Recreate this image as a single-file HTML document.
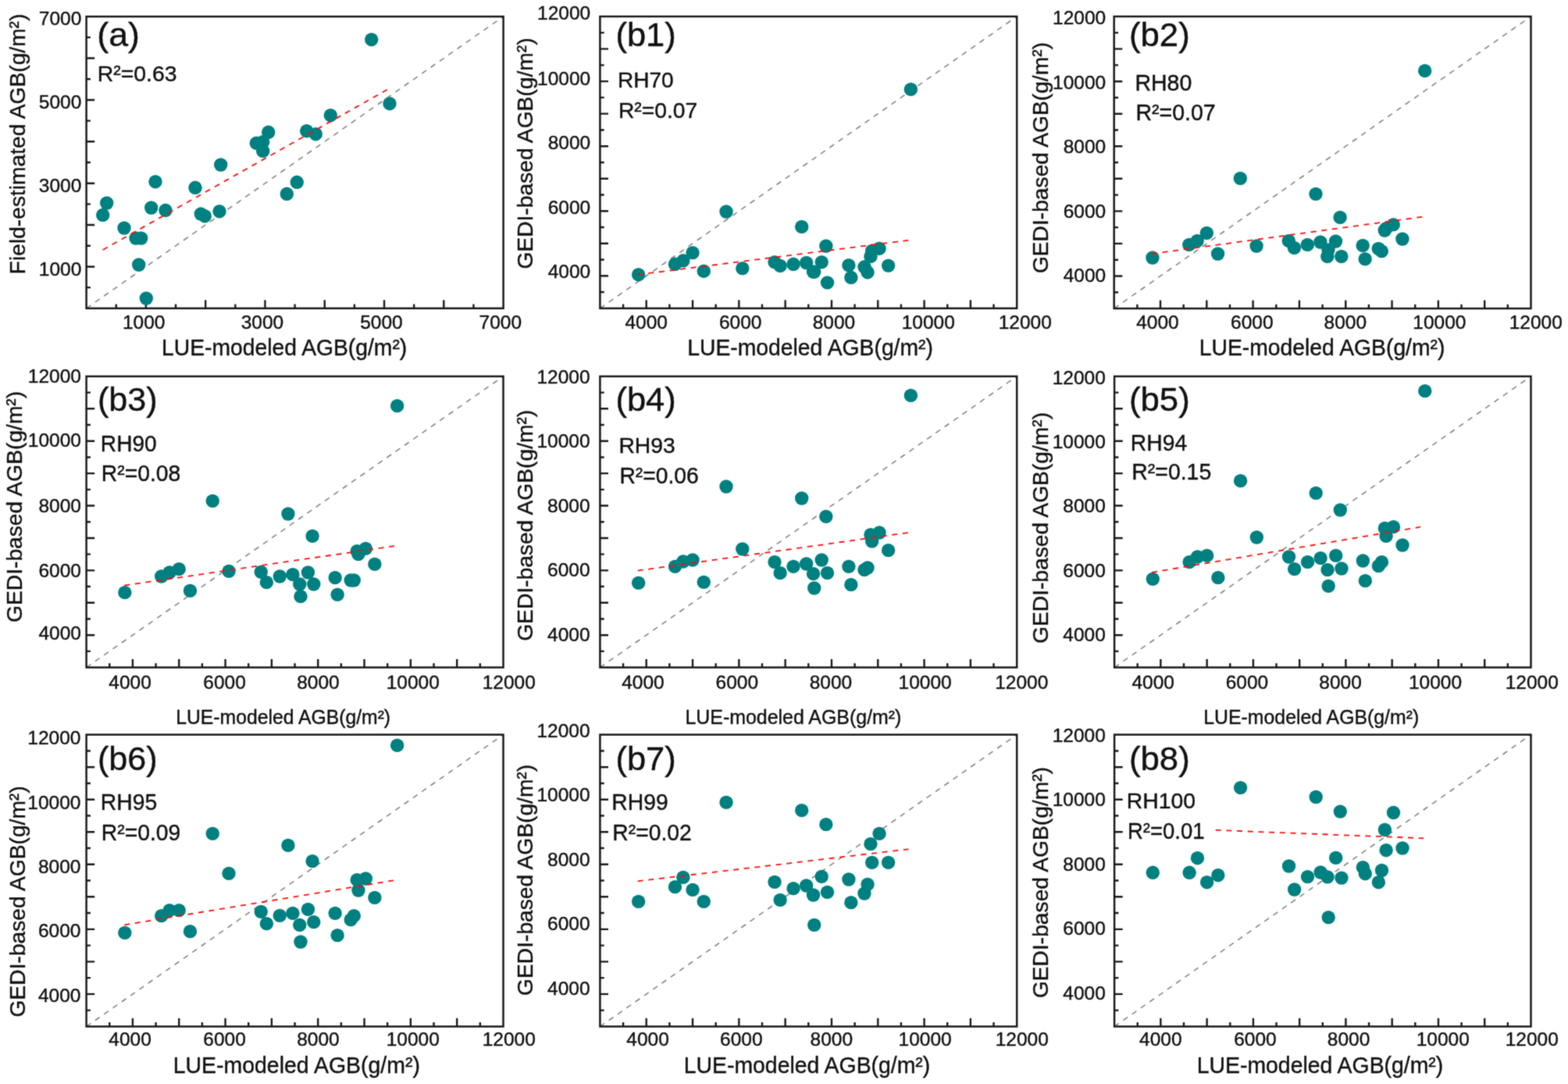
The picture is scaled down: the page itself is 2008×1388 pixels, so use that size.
<!DOCTYPE html>
<html><head><meta charset="utf-8"><title>AGB scatter plots</title>
<style>
html,body{margin:0;padding:0;background:#fff;}
svg{display:block;}
text{font-family:'Liberation Sans', Arial, sans-serif;fill:#111;stroke:#111;stroke-width:0.4px;}
circle{fill:#008080;}
</style></head>
<body>
<svg width="2008" height="1388" viewBox="0 0 2008 1388">
<defs><filter id="soft" color-interpolation-filters="sRGB" filterUnits="userSpaceOnUse" x="0" y="0" width="2008" height="1388"><feConvolveMatrix order="3" kernelMatrix="1 4 1 4 16 4 1 4 1" divisor="36" edgeMode="duplicate"/></filter></defs>
<g filter="url(#soft)">
<rect width="2008" height="1388" fill="#fff"/>
<g id="p_a"><clipPath id="clip_a"><rect x="110.6" y="21.2" width="534" height="373.6"/></clipPath>
<line x1="110.6" y1="394.8" x2="644.6" y2="21.2" stroke="#858585" stroke-width="1.6" stroke-dasharray="7 6.8" clip-path="url(#clip_a)"/>
<path d="M148.74 394.8v-5.3 M186.89 394.8v-10.6 M225.03 394.8v-5.3 M263.17 394.8v-10.6 M301.31 394.8v-5.3 M339.46 394.8v-10.6 M377.6 394.8v-5.3 M415.74 394.8v-10.6 M453.89 394.8v-5.3 M492.03 394.8v-10.6 M530.17 394.8v-5.3 M568.31 394.8v-10.6 M606.46 394.8v-5.3 M110.6 368.11h5.3 M110.6 341.43h10.6 M110.6 314.74h5.3 M110.6 288.06h10.6 M110.6 261.37h5.3 M110.6 234.69h10.6 M110.6 208h5.3 M110.6 181.31h10.6 M110.6 154.63h5.3 M110.6 127.94h10.6 M110.6 101.26h5.3 M110.6 74.57h10.6 M110.6 47.89h5.3" stroke="#1a1a1a" stroke-width="2.4" fill="none"/>
<rect x="110.6" y="21.2" width="534" height="373.6" fill="none" stroke="#1a1a1a" stroke-width="2.5"/>
<circle cx="475.7" cy="50.7" r="8.7"/>
<circle cx="499" cy="132.7" r="8.7"/>
<circle cx="423.3" cy="147.7" r="8.7"/>
<circle cx="343.7" cy="169.3" r="8.7"/>
<circle cx="392.7" cy="167.7" r="8.7"/>
<circle cx="404.3" cy="171.7" r="8.7"/>
<circle cx="328.3" cy="183.3" r="8.7"/>
<circle cx="336.7" cy="181.7" r="8.7"/>
<circle cx="336.7" cy="193.3" r="8.7"/>
<circle cx="282.7" cy="211" r="8.7"/>
<circle cx="199" cy="232.7" r="8.7"/>
<circle cx="250" cy="240.3" r="8.7"/>
<circle cx="380.3" cy="233.3" r="8.7"/>
<circle cx="367.3" cy="248.3" r="8.7"/>
<circle cx="136.7" cy="260" r="8.7"/>
<circle cx="131.7" cy="275.3" r="8.7"/>
<circle cx="193.7" cy="266" r="8.7"/>
<circle cx="212" cy="269.3" r="8.7"/>
<circle cx="257.3" cy="274" r="8.7"/>
<circle cx="262.3" cy="276.7" r="8.7"/>
<circle cx="281" cy="270.7" r="8.7"/>
<circle cx="159" cy="292" r="8.7"/>
<circle cx="174" cy="305" r="8.7"/>
<circle cx="180.7" cy="305" r="8.7"/>
<circle cx="177.7" cy="339" r="8.7"/>
<circle cx="187.3" cy="382" r="8.7"/>
<line x1="131.7" y1="320" x2="496.7" y2="114.3" stroke="#ff0d0d" stroke-width="1.8" stroke-dasharray="7 6.7"/>
<text x="184.2" y="420.7" text-anchor="middle" font-size="24.5">1000</text>
<text x="336" y="420.7" text-anchor="middle" font-size="24.5">3000</text>
<text x="488.4" y="420.7" text-anchor="middle" font-size="24.5">5000</text>
<text x="640.8" y="420.7" text-anchor="middle" font-size="24.5">7000</text>
<text x="104.3" y="32.45" text-anchor="end" font-size="24.5">7000</text>
<text x="104.3" y="245.6" text-anchor="end" font-size="24.5">3000</text>
<text x="104.3" y="139.2" text-anchor="end" font-size="24.5">5000</text>
<text x="104.3" y="353.2" text-anchor="end" font-size="24.5">1000</text>
<text x="207.04" y="455.3" font-size="29" transform="translate(207.04 0) scale(0.9754 1) translate(-207.04 0)">LUE-modeled AGB(g/m²)</text>
<text x="0" y="0" font-size="28.2" transform="translate(32.1 351.26) rotate(-90) scale(1.0001 1)">Field-estimated AGB(g/m²)</text>
<text x="124.32" y="59.12" font-size="41.81" transform="translate(124.32 0) scale(1.0698 1) translate(-124.32 0)">(a)</text>
<text x="124.73" y="103.88" font-size="28.45" transform="translate(124.73 0) scale(0.9986 1) translate(-124.73 0)">R²=0.63</text></g>
<g id="p_b1"><clipPath id="clip_b1"><rect x="768.4" y="21.1" width="533.8" height="373.7"/></clipPath>
<line x1="768.4" y1="394.8" x2="1302.2" y2="21.1" stroke="#858585" stroke-width="1.6" stroke-dasharray="7 6.8" clip-path="url(#clip_b1)"/>
<path d="M798.06 394.8v-5.3 M827.71 394.8v-10.6 M857.37 394.8v-5.3 M887.02 394.8v-10.6 M916.68 394.8v-5.3 M946.33 394.8v-10.6 M975.99 394.8v-5.3 M1005.64 394.8v-10.6 M1035.3 394.8v-5.3 M1064.96 394.8v-10.6 M1094.61 394.8v-5.3 M1124.27 394.8v-10.6 M1153.92 394.8v-5.3 M1183.58 394.8v-10.6 M1213.23 394.8v-5.3 M1242.89 394.8v-10.6 M1272.54 394.8v-5.3 M768.4 374.04h5.3 M768.4 353.28h10.6 M768.4 332.52h5.3 M768.4 311.76h10.6 M768.4 290.99h5.3 M768.4 270.23h10.6 M768.4 249.47h5.3 M768.4 228.71h10.6 M768.4 207.95h5.3 M768.4 187.19h10.6 M768.4 166.43h5.3 M768.4 145.67h10.6 M768.4 124.91h5.3 M768.4 104.14h10.6 M768.4 83.38h5.3 M768.4 62.62h10.6 M768.4 41.86h5.3" stroke="#1a1a1a" stroke-width="2.4" fill="none"/>
<rect x="768.4" y="21.1" width="533.8" height="373.7" fill="none" stroke="#1a1a1a" stroke-width="2.5"/>
<circle cx="817.63" cy="351.7" r="8.7"/>
<circle cx="864.48" cy="338.3" r="8.7"/>
<circle cx="874.86" cy="333.8" r="8.7"/>
<circle cx="887.02" cy="323.6" r="8.7"/>
<circle cx="901.26" cy="347.2" r="8.7"/>
<circle cx="930.02" cy="271" r="8.7"/>
<circle cx="950.78" cy="343.6" r="8.7"/>
<circle cx="992" cy="335.6" r="8.7"/>
<circle cx="999.12" cy="340.4" r="8.7"/>
<circle cx="1016.02" cy="338.3" r="8.7"/>
<circle cx="1026.7" cy="290.4" r="8.7"/>
<circle cx="1032.63" cy="336.5" r="8.7"/>
<circle cx="1041.53" cy="348.1" r="8.7"/>
<circle cx="1042.71" cy="348.1" r="8.7"/>
<circle cx="1052.2" cy="335.6" r="8.7"/>
<circle cx="1057.84" cy="315" r="8.7"/>
<circle cx="1059.5" cy="361.9" r="8.7"/>
<circle cx="1086.9" cy="339.7" r="8.7"/>
<circle cx="1089.87" cy="355.3" r="8.7"/>
<circle cx="1106.95" cy="341.8" r="8.7"/>
<circle cx="1111.04" cy="348.7" r="8.7"/>
<circle cx="1114.95" cy="328.4" r="8.7"/>
<circle cx="1116.67" cy="321.2" r="8.7"/>
<circle cx="1126.05" cy="318.2" r="8.7"/>
<circle cx="1137.61" cy="340.1" r="8.7"/>
<circle cx="1166.38" cy="114.4" r="8.7"/>
<line x1="816.7" y1="351.7" x2="1163.3" y2="307.7" stroke="#ff0d0d" stroke-width="1.8" stroke-dasharray="7 6.7"/>
<text x="827.7" y="420.7" text-anchor="middle" font-size="24.5">4000</text>
<text x="948.2" y="420.7" text-anchor="middle" font-size="24.5">6000</text>
<text x="1068" y="420.7" text-anchor="middle" font-size="24.5">8000</text>
<text x="1188.8" y="420.7" text-anchor="middle" font-size="24.5">10000</text>
<text x="1312.8" y="420.7" text-anchor="middle" font-size="24.5">12000</text>
<text x="756.2" y="25.4" text-anchor="end" font-size="24.5">12000</text>
<text x="756.2" y="108.6" text-anchor="end" font-size="24.5">10000</text>
<text x="756.2" y="191.1" text-anchor="end" font-size="24.5">8000</text>
<text x="756.2" y="273.6" text-anchor="end" font-size="24.5">6000</text>
<text x="756.2" y="356.1" text-anchor="end" font-size="24.5">4000</text>
<text x="880.23" y="455.3" font-size="29" transform="translate(880.23 0) scale(0.9766 1) translate(-880.23 0)">LUE-modeled AGB(g/m²)</text>
<text x="0" y="0" font-size="28.2" transform="translate(681.5 344.51) rotate(-90) scale(1.0000 1)">GEDI-based AGB(g/m²)</text>
<text x="788.49" y="58.62" font-size="41.81" transform="translate(788.49 0) scale(1.0389 1) translate(-788.49 0)">(b1)</text>
<text x="790.95" y="111.58" font-size="27.75" transform="translate(790.95 0) scale(1.0118 1) translate(-790.95 0)">RH70</text>
<text x="791.94" y="150.88" font-size="28.45" transform="translate(791.94 0) scale(0.9935 1) translate(-791.94 0)">R²=0.07</text></g>
<g id="p_b2"><clipPath id="clip_b2"><rect x="1426.7" y="21.1" width="533.8" height="373.9"/></clipPath>
<line x1="1426.7" y1="395" x2="1960.5" y2="21.1" stroke="#858585" stroke-width="1.6" stroke-dasharray="7 6.8" clip-path="url(#clip_b2)"/>
<path d="M1456.36 395v-5.3 M1486.01 395v-10.6 M1515.67 395v-5.3 M1545.32 395v-10.6 M1574.98 395v-5.3 M1604.63 395v-10.6 M1634.29 395v-5.3 M1663.94 395v-10.6 M1693.6 395v-5.3 M1723.26 395v-10.6 M1752.91 395v-5.3 M1782.57 395v-10.6 M1812.22 395v-5.3 M1841.88 395v-10.6 M1871.53 395v-5.3 M1901.19 395v-10.6 M1930.84 395v-5.3 M1426.7 374.23h5.3 M1426.7 353.46h10.6 M1426.7 332.68h5.3 M1426.7 311.91h10.6 M1426.7 291.14h5.3 M1426.7 270.37h10.6 M1426.7 249.59h5.3 M1426.7 228.82h10.6 M1426.7 208.05h5.3 M1426.7 187.28h10.6 M1426.7 166.51h5.3 M1426.7 145.73h10.6 M1426.7 124.96h5.3 M1426.7 104.19h10.6 M1426.7 83.42h5.3 M1426.7 62.64h10.6 M1426.7 41.87h5.3" stroke="#1a1a1a" stroke-width="2.4" fill="none"/>
<rect x="1426.7" y="21.1" width="533.8" height="373.9" fill="none" stroke="#1a1a1a" stroke-width="2.5"/>
<circle cx="1475.93" cy="330" r="8.7"/>
<circle cx="1522.78" cy="313.33" r="8.7"/>
<circle cx="1533.16" cy="308.33" r="8.7"/>
<circle cx="1545.32" cy="298.33" r="8.7"/>
<circle cx="1559.56" cy="325" r="8.7"/>
<circle cx="1588.32" cy="228.33" r="8.7"/>
<circle cx="1609.08" cy="315" r="8.7"/>
<circle cx="1650.3" cy="308.33" r="8.7"/>
<circle cx="1657.42" cy="317.33" r="8.7"/>
<circle cx="1674.32" cy="313.33" r="8.7"/>
<circle cx="1685" cy="248.33" r="8.7"/>
<circle cx="1690.93" cy="310" r="8.7"/>
<circle cx="1699.83" cy="328.33" r="8.7"/>
<circle cx="1701.01" cy="320" r="8.7"/>
<circle cx="1710.5" cy="309" r="8.7"/>
<circle cx="1716.14" cy="278.33" r="8.7"/>
<circle cx="1717.8" cy="328.33" r="8.7"/>
<circle cx="1745.2" cy="314.33" r="8.7"/>
<circle cx="1748.17" cy="331.67" r="8.7"/>
<circle cx="1765.25" cy="318.33" r="8.7"/>
<circle cx="1769.34" cy="321.67" r="8.7"/>
<circle cx="1773.25" cy="295" r="8.7"/>
<circle cx="1774.97" cy="292.67" r="8.7"/>
<circle cx="1784.35" cy="287.67" r="8.7"/>
<circle cx="1795.91" cy="306" r="8.7"/>
<circle cx="1824.68" cy="90.67" r="8.7"/>
<line x1="1475" y1="325" x2="1821.3" y2="277.7" stroke="#ff0d0d" stroke-width="1.8" stroke-dasharray="7 6.7"/>
<text x="1482.4" y="420.7" text-anchor="middle" font-size="24.5">4000</text>
<text x="1603.3" y="420.7" text-anchor="middle" font-size="24.5">6000</text>
<text x="1722.8" y="420.7" text-anchor="middle" font-size="24.5">8000</text>
<text x="1843.4" y="420.7" text-anchor="middle" font-size="24.5">10000</text>
<text x="1966.7" y="420.7" text-anchor="middle" font-size="24.5">12000</text>
<text x="1416.2" y="31" text-anchor="end" font-size="24.5">12000</text>
<text x="1416.2" y="114.3" text-anchor="end" font-size="24.5">10000</text>
<text x="1416.2" y="196.4" text-anchor="end" font-size="24.5">8000</text>
<text x="1416.2" y="278.9" text-anchor="end" font-size="24.5">6000</text>
<text x="1416.2" y="360.8" text-anchor="end" font-size="24.5">4000</text>
<text x="1535.73" y="455.3" font-size="29" transform="translate(1535.73 0) scale(0.9766 1) translate(-1535.73 0)">LUE-modeled AGB(g/m²)</text>
<text x="0" y="0" font-size="28.2" transform="translate(1342.3 350.11) rotate(-90) scale(1.0000 1)">GEDI-based AGB(g/m²)</text>
<text x="1445.98" y="58.62" font-size="41.81" transform="translate(1445.98 0) scale(1.0461 1) translate(-1445.98 0)">(b2)</text>
<text x="1453.42" y="115.59" font-size="29.15" transform="translate(1453.42 0) scale(0.9784 1) translate(-1453.42 0)">RH80</text>
<text x="1454.42" y="153.89" font-size="29.01" transform="translate(1454.42 0) scale(0.9842 1) translate(-1454.42 0)">R²=0.07</text></g>
<g id="p_b3"><clipPath id="clip_b3"><rect x="110.6" y="481.9" width="533.9" height="372.7"/></clipPath>
<line x1="110.6" y1="854.6" x2="644.5" y2="481.9" stroke="#858585" stroke-width="1.6" stroke-dasharray="7 6.8" clip-path="url(#clip_b3)"/>
<path d="M140.26 854.6v-5.3 M169.92 854.6v-10.6 M199.58 854.6v-5.3 M229.24 854.6v-10.6 M258.91 854.6v-5.3 M288.57 854.6v-10.6 M318.23 854.6v-5.3 M347.89 854.6v-10.6 M377.55 854.6v-5.3 M407.21 854.6v-10.6 M436.87 854.6v-5.3 M466.53 854.6v-10.6 M496.19 854.6v-5.3 M525.86 854.6v-10.6 M555.52 854.6v-5.3 M585.18 854.6v-10.6 M614.84 854.6v-5.3 M110.6 833.89h5.3 M110.6 813.19h10.6 M110.6 792.48h5.3 M110.6 771.78h10.6 M110.6 751.07h5.3 M110.6 730.37h10.6 M110.6 709.66h5.3 M110.6 688.96h10.6 M110.6 668.25h5.3 M110.6 647.54h10.6 M110.6 626.84h5.3 M110.6 606.13h10.6 M110.6 585.43h5.3 M110.6 564.72h10.6 M110.6 544.02h5.3 M110.6 523.31h10.6 M110.6 502.61h5.3" stroke="#1a1a1a" stroke-width="2.4" fill="none"/>
<rect x="110.6" y="481.9" width="533.9" height="372.7" fill="none" stroke="#1a1a1a" stroke-width="2.5"/>
<circle cx="159.84" cy="758.67" r="8.7"/>
<circle cx="206.7" cy="738" r="8.7"/>
<circle cx="217.08" cy="733" r="8.7"/>
<circle cx="229.24" cy="728.67" r="8.7"/>
<circle cx="243.48" cy="756.33" r="8.7"/>
<circle cx="272.25" cy="641.33" r="8.7"/>
<circle cx="293.02" cy="731.33" r="8.7"/>
<circle cx="334.24" cy="732.33" r="8.7"/>
<circle cx="341.36" cy="745.67" r="8.7"/>
<circle cx="358.27" cy="738" r="8.7"/>
<circle cx="368.95" cy="658" r="8.7"/>
<circle cx="374.88" cy="735.67" r="8.7"/>
<circle cx="383.78" cy="748" r="8.7"/>
<circle cx="384.97" cy="763.67" r="8.7"/>
<circle cx="394.46" cy="733" r="8.7"/>
<circle cx="400.09" cy="686.33" r="8.7"/>
<circle cx="401.75" cy="748" r="8.7"/>
<circle cx="429.16" cy="739.67" r="8.7"/>
<circle cx="432.13" cy="761.33" r="8.7"/>
<circle cx="449.21" cy="743" r="8.7"/>
<circle cx="453.3" cy="743" r="8.7"/>
<circle cx="457.22" cy="705.67" r="8.7"/>
<circle cx="458.94" cy="709.67" r="8.7"/>
<circle cx="468.31" cy="702.33" r="8.7"/>
<circle cx="479.88" cy="722.33" r="8.7"/>
<circle cx="508.65" cy="519.67" r="8.7"/>
<line x1="159.3" y1="749.7" x2="505.7" y2="699" stroke="#ff0d0d" stroke-width="1.8" stroke-dasharray="7 6.7"/>
<text x="166.6" y="881.8" text-anchor="middle" font-size="24.5">4000</text>
<text x="287.6" y="881.8" text-anchor="middle" font-size="24.5">6000</text>
<text x="407.4" y="881.8" text-anchor="middle" font-size="24.5">8000</text>
<text x="528.8" y="881.8" text-anchor="middle" font-size="24.5">10000</text>
<text x="651.7" y="881.8" text-anchor="middle" font-size="24.5">12000</text>
<text x="104" y="489.5" text-anchor="end" font-size="24.5">12000</text>
<text x="104" y="571.5" text-anchor="end" font-size="24.5">10000</text>
<text x="104" y="655.8" text-anchor="end" font-size="24.5">8000</text>
<text x="104" y="738.5" text-anchor="end" font-size="24.5">6000</text>
<text x="104" y="818.7" text-anchor="end" font-size="24.5">4000</text>
<text x="225.22" y="927.4" font-size="25.5" transform="translate(225.22 0) scale(0.9706 1) translate(-225.22 0)">LUE-modeled AGB(g/m²)</text>
<text x="0" y="0" font-size="28.2" transform="translate(27.7 796.91) rotate(-90) scale(1.0000 1)">GEDI-based AGB(g/m²)</text>
<text x="125.01" y="525.51" font-size="42.34" transform="translate(125.01 0) scale(1.0187 1) translate(-125.01 0)">(b3)</text>
<text x="128.85" y="577.59" font-size="29.15" transform="translate(128.85 0) scale(0.9643 1) translate(-128.85 0)">RH90</text>
<text x="129.84" y="615.89" font-size="29.15" transform="translate(129.84 0) scale(0.9705 1) translate(-129.84 0)">R²=0.08</text></g>
<g id="p_b4"><clipPath id="clip_b4"><rect x="768.4" y="481.9" width="533.8" height="372.7"/></clipPath>
<line x1="768.4" y1="854.6" x2="1302.2" y2="481.9" stroke="#858585" stroke-width="1.6" stroke-dasharray="7 6.8" clip-path="url(#clip_b4)"/>
<path d="M798.06 854.6v-5.3 M827.71 854.6v-10.6 M857.37 854.6v-5.3 M887.02 854.6v-10.6 M916.68 854.6v-5.3 M946.33 854.6v-10.6 M975.99 854.6v-5.3 M1005.64 854.6v-10.6 M1035.3 854.6v-5.3 M1064.96 854.6v-10.6 M1094.61 854.6v-5.3 M1124.27 854.6v-10.6 M1153.92 854.6v-5.3 M1183.58 854.6v-10.6 M1213.23 854.6v-5.3 M1242.89 854.6v-10.6 M1272.54 854.6v-5.3 M768.4 833.89h5.3 M768.4 813.19h10.6 M768.4 792.48h5.3 M768.4 771.78h10.6 M768.4 751.07h5.3 M768.4 730.37h10.6 M768.4 709.66h5.3 M768.4 688.96h10.6 M768.4 668.25h5.3 M768.4 647.54h10.6 M768.4 626.84h5.3 M768.4 606.13h10.6 M768.4 585.43h5.3 M768.4 564.72h10.6 M768.4 544.02h5.3 M768.4 523.31h10.6 M768.4 502.61h5.3" stroke="#1a1a1a" stroke-width="2.4" fill="none"/>
<rect x="768.4" y="481.9" width="533.8" height="372.7" fill="none" stroke="#1a1a1a" stroke-width="2.5"/>
<circle cx="817.63" cy="746.33" r="8.7"/>
<circle cx="864.48" cy="725.33" r="8.7"/>
<circle cx="874.86" cy="719" r="8.7"/>
<circle cx="887.02" cy="717" r="8.7"/>
<circle cx="901.26" cy="745.33" r="8.7"/>
<circle cx="930.02" cy="623" r="8.7"/>
<circle cx="950.78" cy="703" r="8.7"/>
<circle cx="992" cy="719.67" r="8.7"/>
<circle cx="999.12" cy="733.67" r="8.7"/>
<circle cx="1016.02" cy="725.33" r="8.7"/>
<circle cx="1026.7" cy="638" r="8.7"/>
<circle cx="1032.63" cy="722" r="8.7"/>
<circle cx="1041.53" cy="734.67" r="8.7"/>
<circle cx="1042.71" cy="753" r="8.7"/>
<circle cx="1052.2" cy="717" r="8.7"/>
<circle cx="1057.84" cy="661.33" r="8.7"/>
<circle cx="1059.5" cy="733.67" r="8.7"/>
<circle cx="1086.9" cy="725.33" r="8.7"/>
<circle cx="1089.87" cy="748.67" r="8.7"/>
<circle cx="1106.95" cy="729.67" r="8.7"/>
<circle cx="1111.04" cy="727" r="8.7"/>
<circle cx="1114.95" cy="684.67" r="8.7"/>
<circle cx="1116.67" cy="693" r="8.7"/>
<circle cx="1126.05" cy="682" r="8.7"/>
<circle cx="1137.61" cy="704.67" r="8.7"/>
<circle cx="1166.38" cy="506.33" r="8.7"/>
<line x1="816.7" y1="730.7" x2="1163.3" y2="682" stroke="#ff0d0d" stroke-width="1.8" stroke-dasharray="7 6.7"/>
<text x="823.5" y="881.8" text-anchor="middle" font-size="24.5">4000</text>
<text x="943.8" y="881.8" text-anchor="middle" font-size="24.5">6000</text>
<text x="1064" y="881.8" text-anchor="middle" font-size="24.5">8000</text>
<text x="1184.6" y="881.8" text-anchor="middle" font-size="24.5">10000</text>
<text x="1308.3" y="881.8" text-anchor="middle" font-size="24.5">12000</text>
<text x="755.6" y="490.8" text-anchor="end" font-size="24.5">12000</text>
<text x="755.6" y="573.1" text-anchor="end" font-size="24.5">10000</text>
<text x="755.6" y="655.5" text-anchor="end" font-size="24.5">8000</text>
<text x="755.6" y="737.5" text-anchor="end" font-size="24.5">6000</text>
<text x="755.6" y="820.6" text-anchor="end" font-size="24.5">4000</text>
<text x="877.51" y="926.8" font-size="25.5" transform="translate(877.51 0) scale(0.9774 1) translate(-877.51 0)">LUE-modeled AGB(g/m²)</text>
<text x="0" y="0" font-size="28.2" transform="translate(681.5 820.81) rotate(-90) scale(1.0000 1)">GEDI-based AGB(g/m²)</text>
<text x="788.49" y="525.51" font-size="42.34" transform="translate(788.49 0) scale(1.0258 1) translate(-788.49 0)">(b4)</text>
<text x="792.43" y="579.58" font-size="28.45" transform="translate(792.43 0) scale(0.9954 1) translate(-792.43 0)">RH93</text>
<text x="793.44" y="618.69" font-size="28.73" transform="translate(793.44 0) scale(0.9838 1) translate(-793.44 0)">R²=0.06</text></g>
<g id="p_b5"><clipPath id="clip_b5"><rect x="1427.1" y="481.9" width="533.4" height="372.7"/></clipPath>
<line x1="1427.1" y1="854.6" x2="1960.5" y2="481.9" stroke="#858585" stroke-width="1.6" stroke-dasharray="7 6.8" clip-path="url(#clip_b5)"/>
<path d="M1456.73 854.6v-5.3 M1486.37 854.6v-10.6 M1516 854.6v-5.3 M1545.63 854.6v-10.6 M1575.27 854.6v-5.3 M1604.9 854.6v-10.6 M1634.53 854.6v-5.3 M1664.17 854.6v-10.6 M1693.8 854.6v-5.3 M1723.43 854.6v-10.6 M1753.07 854.6v-5.3 M1782.7 854.6v-10.6 M1812.33 854.6v-5.3 M1841.97 854.6v-10.6 M1871.6 854.6v-5.3 M1901.23 854.6v-10.6 M1930.87 854.6v-5.3 M1427.1 833.89h5.3 M1427.1 813.19h10.6 M1427.1 792.48h5.3 M1427.1 771.78h10.6 M1427.1 751.07h5.3 M1427.1 730.37h10.6 M1427.1 709.66h5.3 M1427.1 688.96h10.6 M1427.1 668.25h5.3 M1427.1 647.54h10.6 M1427.1 626.84h5.3 M1427.1 606.13h10.6 M1427.1 585.43h5.3 M1427.1 564.72h10.6 M1427.1 544.02h5.3 M1427.1 523.31h10.6 M1427.1 502.61h5.3" stroke="#1a1a1a" stroke-width="2.4" fill="none"/>
<rect x="1427.1" y="481.9" width="533.4" height="372.7" fill="none" stroke="#1a1a1a" stroke-width="2.5"/>
<circle cx="1476.29" cy="741.33" r="8.7"/>
<circle cx="1523.11" cy="719.67" r="8.7"/>
<circle cx="1533.48" cy="713" r="8.7"/>
<circle cx="1545.63" cy="711.33" r="8.7"/>
<circle cx="1559.86" cy="739.67" r="8.7"/>
<circle cx="1588.6" cy="615.67" r="8.7"/>
<circle cx="1609.35" cy="688" r="8.7"/>
<circle cx="1650.54" cy="713" r="8.7"/>
<circle cx="1657.65" cy="728.67" r="8.7"/>
<circle cx="1674.54" cy="719.67" r="8.7"/>
<circle cx="1685.21" cy="631.33" r="8.7"/>
<circle cx="1691.13" cy="714.67" r="8.7"/>
<circle cx="1700.02" cy="729.67" r="8.7"/>
<circle cx="1701.21" cy="750.33" r="8.7"/>
<circle cx="1710.69" cy="711.33" r="8.7"/>
<circle cx="1716.32" cy="653" r="8.7"/>
<circle cx="1717.98" cy="728" r="8.7"/>
<circle cx="1745.36" cy="718" r="8.7"/>
<circle cx="1748.33" cy="743.67" r="8.7"/>
<circle cx="1765.39" cy="724.67" r="8.7"/>
<circle cx="1769.48" cy="719.67" r="8.7"/>
<circle cx="1773.4" cy="676.33" r="8.7"/>
<circle cx="1775.11" cy="686.33" r="8.7"/>
<circle cx="1784.48" cy="674.67" r="8.7"/>
<circle cx="1796.03" cy="698" r="8.7"/>
<circle cx="1824.78" cy="500.67" r="8.7"/>
<line x1="1475" y1="733" x2="1819" y2="674.7" stroke="#ff0d0d" stroke-width="1.8" stroke-dasharray="7 6.7"/>
<text x="1476.7" y="881.8" text-anchor="middle" font-size="24.5">4000</text>
<text x="1597" y="881.8" text-anchor="middle" font-size="24.5">6000</text>
<text x="1716.6" y="881.8" text-anchor="middle" font-size="24.5">8000</text>
<text x="1838" y="881.8" text-anchor="middle" font-size="24.5">10000</text>
<text x="1961.8" y="881.8" text-anchor="middle" font-size="24.5">12000</text>
<text x="1415.8" y="491.6" text-anchor="end" font-size="24.5">12000</text>
<text x="1415.8" y="574.1" text-anchor="end" font-size="24.5">10000</text>
<text x="1415.8" y="656.2" text-anchor="end" font-size="24.5">8000</text>
<text x="1415.8" y="738.5" text-anchor="end" font-size="24.5">6000</text>
<text x="1415.8" y="821.1" text-anchor="end" font-size="24.5">4000</text>
<text x="1541.31" y="926.8" font-size="25.5" transform="translate(1541.31 0) scale(0.9741 1) translate(-1541.31 0)">LUE-modeled AGB(g/m²)</text>
<text x="0" y="0" font-size="28.2" transform="translate(1342.3 824.01) rotate(-90) scale(1.0000 1)">GEDI-based AGB(g/m²)</text>
<text x="1445.98" y="525.51" font-size="42.34" transform="translate(1445.98 0) scale(1.0329 1) translate(-1445.98 0)">(b5)</text>
<text x="1447.83" y="576.59" font-size="29.15" transform="translate(1447.83 0) scale(0.9714 1) translate(-1447.83 0)">RH94</text>
<text x="1449.32" y="614.39" font-size="29.15" transform="translate(1449.32 0) scale(0.9755 1) translate(-1449.32 0)">R²=0.15</text></g>
<g id="p_b6"><clipPath id="clip_b6"><rect x="110.6" y="940.7" width="533.9" height="373.7"/></clipPath>
<line x1="110.6" y1="1314.4" x2="644.5" y2="940.7" stroke="#858585" stroke-width="1.6" stroke-dasharray="7 6.8" clip-path="url(#clip_b6)"/>
<path d="M140.26 1314.4v-5.3 M169.92 1314.4v-10.6 M199.58 1314.4v-5.3 M229.24 1314.4v-10.6 M258.91 1314.4v-5.3 M288.57 1314.4v-10.6 M318.23 1314.4v-5.3 M347.89 1314.4v-10.6 M377.55 1314.4v-5.3 M407.21 1314.4v-10.6 M436.87 1314.4v-5.3 M466.53 1314.4v-10.6 M496.19 1314.4v-5.3 M525.86 1314.4v-10.6 M555.52 1314.4v-5.3 M585.18 1314.4v-10.6 M614.84 1314.4v-5.3 M110.6 1293.64h5.3 M110.6 1272.88h10.6 M110.6 1252.12h5.3 M110.6 1231.36h10.6 M110.6 1210.59h5.3 M110.6 1189.83h10.6 M110.6 1169.07h5.3 M110.6 1148.31h10.6 M110.6 1127.55h5.3 M110.6 1106.79h10.6 M110.6 1086.03h5.3 M110.6 1065.27h10.6 M110.6 1044.51h5.3 M110.6 1023.74h10.6 M110.6 1002.98h5.3 M110.6 982.22h10.6 M110.6 961.46h5.3" stroke="#1a1a1a" stroke-width="2.4" fill="none"/>
<rect x="110.6" y="940.7" width="533.9" height="373.7" fill="none" stroke="#1a1a1a" stroke-width="2.5"/>
<circle cx="159.84" cy="1194.33" r="8.7"/>
<circle cx="206.7" cy="1172.67" r="8.7"/>
<circle cx="217.08" cy="1165.67" r="8.7"/>
<circle cx="229.24" cy="1165.67" r="8.7"/>
<circle cx="243.48" cy="1192.67" r="8.7"/>
<circle cx="272.25" cy="1067.33" r="8.7"/>
<circle cx="293.02" cy="1118.33" r="8.7"/>
<circle cx="334.24" cy="1167.33" r="8.7"/>
<circle cx="341.36" cy="1182.67" r="8.7"/>
<circle cx="358.27" cy="1172.33" r="8.7"/>
<circle cx="368.95" cy="1082.33" r="8.7"/>
<circle cx="374.88" cy="1169.33" r="8.7"/>
<circle cx="383.78" cy="1184.33" r="8.7"/>
<circle cx="384.97" cy="1206" r="8.7"/>
<circle cx="394.46" cy="1164.33" r="8.7"/>
<circle cx="400.09" cy="1102.67" r="8.7"/>
<circle cx="401.75" cy="1180.67" r="8.7"/>
<circle cx="429.16" cy="1169.33" r="8.7"/>
<circle cx="432.13" cy="1197.67" r="8.7"/>
<circle cx="449.21" cy="1177.67" r="8.7"/>
<circle cx="453.3" cy="1172.67" r="8.7"/>
<circle cx="457.22" cy="1126.67" r="8.7"/>
<circle cx="458.94" cy="1140" r="8.7"/>
<circle cx="468.31" cy="1125" r="8.7"/>
<circle cx="479.88" cy="1149.33" r="8.7"/>
<circle cx="508.65" cy="954.33" r="8.7"/>
<line x1="159.3" y1="1184.3" x2="504" y2="1127.3" stroke="#ff0d0d" stroke-width="1.8" stroke-dasharray="7 6.7"/>
<text x="166.6" y="1338.8" text-anchor="middle" font-size="24.5">4000</text>
<text x="287.6" y="1338.8" text-anchor="middle" font-size="24.5">6000</text>
<text x="407.4" y="1338.8" text-anchor="middle" font-size="24.5">8000</text>
<text x="528.8" y="1338.8" text-anchor="middle" font-size="24.5">10000</text>
<text x="651.7" y="1338.8" text-anchor="middle" font-size="24.5">12000</text>
<text x="103.5" y="953" text-anchor="end" font-size="24.5">12000</text>
<text x="103.5" y="1035.8" text-anchor="end" font-size="24.5">10000</text>
<text x="103.5" y="1118.4" text-anchor="end" font-size="24.5">8000</text>
<text x="103.5" y="1200.3" text-anchor="end" font-size="24.5">6000</text>
<text x="103.5" y="1283.4" text-anchor="end" font-size="24.5">4000</text>
<text x="221.72" y="1374.4" font-size="29" transform="translate(221.72 0) scale(0.9814 1) translate(-221.72 0)">LUE-modeled AGB(g/m²)</text>
<text x="0" y="0" font-size="28.2" transform="translate(32.1 1302.41) rotate(-90) scale(1.0000 1)">GEDI-based AGB(g/m²)</text>
<text x="125.01" y="985.51" font-size="42.34" transform="translate(125.01 0) scale(1.0187 1) translate(-125.01 0)">(b6)</text>
<text x="128.83" y="1037.09" font-size="29.15" transform="translate(128.83 0) scale(0.9714 1) translate(-128.83 0)">RH95</text>
<text x="129.84" y="1075.59" font-size="29.44" transform="translate(129.84 0) scale(0.9612 1) translate(-129.84 0)">R²=0.09</text></g>
<g id="p_b7"><clipPath id="clip_b7"><rect x="768.4" y="940.7" width="533.8" height="373.7"/></clipPath>
<line x1="768.4" y1="1314.4" x2="1302.2" y2="940.7" stroke="#858585" stroke-width="1.6" stroke-dasharray="7 6.8" clip-path="url(#clip_b7)"/>
<path d="M798.06 1314.4v-5.3 M827.71 1314.4v-10.6 M857.37 1314.4v-5.3 M887.02 1314.4v-10.6 M916.68 1314.4v-5.3 M946.33 1314.4v-10.6 M975.99 1314.4v-5.3 M1005.64 1314.4v-10.6 M1035.3 1314.4v-5.3 M1064.96 1314.4v-10.6 M1094.61 1314.4v-5.3 M1124.27 1314.4v-10.6 M1153.92 1314.4v-5.3 M1183.58 1314.4v-10.6 M1213.23 1314.4v-5.3 M1242.89 1314.4v-10.6 M1272.54 1314.4v-5.3 M768.4 1293.64h5.3 M768.4 1272.88h10.6 M768.4 1252.12h5.3 M768.4 1231.36h10.6 M768.4 1210.59h5.3 M768.4 1189.83h10.6 M768.4 1169.07h5.3 M768.4 1148.31h10.6 M768.4 1127.55h5.3 M768.4 1106.79h10.6 M768.4 1086.03h5.3 M768.4 1065.27h10.6 M768.4 1044.51h5.3 M768.4 1023.74h10.6 M768.4 1002.98h5.3 M768.4 982.22h10.6 M768.4 961.46h5.3" stroke="#1a1a1a" stroke-width="2.4" fill="none"/>
<rect x="768.4" y="940.7" width="533.8" height="373.7" fill="none" stroke="#1a1a1a" stroke-width="2.5"/>
<circle cx="817.63" cy="1154.33" r="8.7"/>
<circle cx="864.48" cy="1135.67" r="8.7"/>
<circle cx="874.86" cy="1123.33" r="8.7"/>
<circle cx="887.02" cy="1139.33" r="8.7"/>
<circle cx="901.26" cy="1154.33" r="8.7"/>
<circle cx="930.02" cy="1027.33" r="8.7"/>
<circle cx="992" cy="1129.33" r="8.7"/>
<circle cx="999.12" cy="1152.33" r="8.7"/>
<circle cx="1016.02" cy="1137.67" r="8.7"/>
<circle cx="1026.7" cy="1037.67" r="8.7"/>
<circle cx="1032.63" cy="1134" r="8.7"/>
<circle cx="1041.53" cy="1146" r="8.7"/>
<circle cx="1042.71" cy="1184.33" r="8.7"/>
<circle cx="1052.2" cy="1122.33" r="8.7"/>
<circle cx="1057.84" cy="1055.67" r="8.7"/>
<circle cx="1059.5" cy="1142.33" r="8.7"/>
<circle cx="1086.9" cy="1126" r="8.7"/>
<circle cx="1089.87" cy="1155.67" r="8.7"/>
<circle cx="1106.95" cy="1144" r="8.7"/>
<circle cx="1111.04" cy="1132.33" r="8.7"/>
<circle cx="1114.95" cy="1080.67" r="8.7"/>
<circle cx="1116.67" cy="1104.33" r="8.7"/>
<circle cx="1126.05" cy="1067.33" r="8.7"/>
<circle cx="1137.61" cy="1104.33" r="8.7"/>
<line x1="816.7" y1="1128.3" x2="1163.3" y2="1087.3" stroke="#ff0d0d" stroke-width="1.8" stroke-dasharray="7 6.7"/>
<text x="829.6" y="1338.8" text-anchor="middle" font-size="24.5">4000</text>
<text x="949.3" y="1338.8" text-anchor="middle" font-size="24.5">6000</text>
<text x="1064.8" y="1338.8" text-anchor="middle" font-size="24.5">8000</text>
<text x="1184.6" y="1338.8" text-anchor="middle" font-size="24.5">10000</text>
<text x="1308.7" y="1338.8" text-anchor="middle" font-size="24.5">12000</text>
<text x="755.6" y="943.6" text-anchor="end" font-size="24.5">12000</text>
<text x="755.6" y="1026.2" text-anchor="end" font-size="24.5">10000</text>
<text x="755.6" y="1109" text-anchor="end" font-size="24.5">8000</text>
<text x="755.6" y="1191.2" text-anchor="end" font-size="24.5">6000</text>
<text x="755.6" y="1273.8" text-anchor="end" font-size="24.5">4000</text>
<text x="875.73" y="1374.4" font-size="29" transform="translate(875.73 0) scale(0.9795 1) translate(-875.73 0)">LUE-modeled AGB(g/m²)</text>
<text x="0" y="0" font-size="28.2" transform="translate(681.5 1274.91) rotate(-90) scale(1.0000 1)">GEDI-based AGB(g/m²)</text>
<text x="788.49" y="985.51" font-size="42.34" transform="translate(788.49 0) scale(1.0258 1) translate(-788.49 0)">(b7)</text>
<text x="783.33" y="1037.09" font-size="29.15" transform="translate(783.33 0) scale(0.9714 1) translate(-783.33 0)">RH99</text>
<text x="784.34" y="1075.59" font-size="29.44" transform="translate(784.34 0) scale(0.9602 1) translate(-784.34 0)">R²=0.02</text></g>
<g id="p_b8"><clipPath id="clip_b8"><rect x="1427.1" y="940.7" width="533.4" height="373.7"/></clipPath>
<line x1="1427.1" y1="1314.4" x2="1960.5" y2="940.7" stroke="#858585" stroke-width="1.6" stroke-dasharray="7 6.8" clip-path="url(#clip_b8)"/>
<path d="M1456.73 1314.4v-5.3 M1486.37 1314.4v-10.6 M1516 1314.4v-5.3 M1545.63 1314.4v-10.6 M1575.27 1314.4v-5.3 M1604.9 1314.4v-10.6 M1634.53 1314.4v-5.3 M1664.17 1314.4v-10.6 M1693.8 1314.4v-5.3 M1723.43 1314.4v-10.6 M1753.07 1314.4v-5.3 M1782.7 1314.4v-10.6 M1812.33 1314.4v-5.3 M1841.97 1314.4v-10.6 M1871.6 1314.4v-5.3 M1901.23 1314.4v-10.6 M1930.87 1314.4v-5.3 M1427.1 1293.64h5.3 M1427.1 1272.88h10.6 M1427.1 1252.12h5.3 M1427.1 1231.36h10.6 M1427.1 1210.59h5.3 M1427.1 1189.83h10.6 M1427.1 1169.07h5.3 M1427.1 1148.31h10.6 M1427.1 1127.55h5.3 M1427.1 1106.79h10.6 M1427.1 1086.03h5.3 M1427.1 1065.27h10.6 M1427.1 1044.51h5.3 M1427.1 1023.74h10.6 M1427.1 1002.98h5.3 M1427.1 982.22h10.6 M1427.1 961.46h5.3" stroke="#1a1a1a" stroke-width="2.4" fill="none"/>
<rect x="1427.1" y="940.7" width="533.4" height="373.7" fill="none" stroke="#1a1a1a" stroke-width="2.5"/>
<circle cx="1476.29" cy="1117.3" r="8.7"/>
<circle cx="1523.11" cy="1117.3" r="8.7"/>
<circle cx="1533.48" cy="1098.7" r="8.7"/>
<circle cx="1545.63" cy="1129.7" r="8.7"/>
<circle cx="1559.86" cy="1120.7" r="8.7"/>
<circle cx="1588.6" cy="1008.6" r="8.7"/>
<circle cx="1650.54" cy="1109" r="8.7"/>
<circle cx="1657.65" cy="1139" r="8.7"/>
<circle cx="1674.54" cy="1122.6" r="8.7"/>
<circle cx="1685.21" cy="1020.5" r="8.7"/>
<circle cx="1691.13" cy="1117" r="8.7"/>
<circle cx="1700.02" cy="1122.9" r="8.7"/>
<circle cx="1701.21" cy="1174.6" r="8.7"/>
<circle cx="1710.69" cy="1098.4" r="8.7"/>
<circle cx="1716.32" cy="1039.1" r="8.7"/>
<circle cx="1717.98" cy="1124.1" r="8.7"/>
<circle cx="1745.36" cy="1110.6" r="8.7"/>
<circle cx="1748.33" cy="1118.7" r="8.7"/>
<circle cx="1765.39" cy="1129.7" r="8.7"/>
<circle cx="1769.48" cy="1114.5" r="8.7"/>
<circle cx="1773.4" cy="1062.5" r="8.7"/>
<circle cx="1775.11" cy="1088.7" r="8.7"/>
<circle cx="1784.48" cy="1040.5" r="8.7"/>
<circle cx="1796.03" cy="1086" r="8.7"/>
<line x1="1556.7" y1="1062.9" x2="1823.3" y2="1073.3" stroke="#ff0d0d" stroke-width="1.8" stroke-dasharray="7 6.7"/>
<text x="1486.3" y="1338.8" text-anchor="middle" font-size="24.5">4000</text>
<text x="1607.5" y="1338.8" text-anchor="middle" font-size="24.5">6000</text>
<text x="1727.1" y="1338.8" text-anchor="middle" font-size="24.5">8000</text>
<text x="1847.8" y="1338.8" text-anchor="middle" font-size="24.5">10000</text>
<text x="1961.8" y="1338.8" text-anchor="middle" font-size="24.5">12000</text>
<text x="1415.8" y="949.8" text-anchor="end" font-size="24.5">12000</text>
<text x="1415.8" y="1032.3" text-anchor="end" font-size="24.5">10000</text>
<text x="1415.8" y="1115.2" text-anchor="end" font-size="24.5">8000</text>
<text x="1415.8" y="1197.2" text-anchor="end" font-size="24.5">6000</text>
<text x="1415.8" y="1280.2" text-anchor="end" font-size="24.5">4000</text>
<text x="1532.73" y="1374.4" font-size="29" transform="translate(1532.73 0) scale(0.9795 1) translate(-1532.73 0)">LUE-modeled AGB(g/m²)</text>
<text x="0" y="0" font-size="28.2" transform="translate(1342.3 1278.11) rotate(-90) scale(1.0000 1)">GEDI-based AGB(g/m²)</text>
<text x="1445.98" y="985.51" font-size="42.34" transform="translate(1445.98 0) scale(1.0329 1) translate(-1445.98 0)">(b8)</text>
<text x="1442.83" y="1035.08" font-size="27.75" transform="translate(1442.83 0) scale(1.0209 1) translate(-1442.83 0)">RH100</text>
<text x="1443.9" y="1073.89" font-size="29.15" transform="translate(1443.9 0) scale(0.9447 1) translate(-1443.9 0)">R²=0.01</text></g>
</g>
</svg>
</body></html>
